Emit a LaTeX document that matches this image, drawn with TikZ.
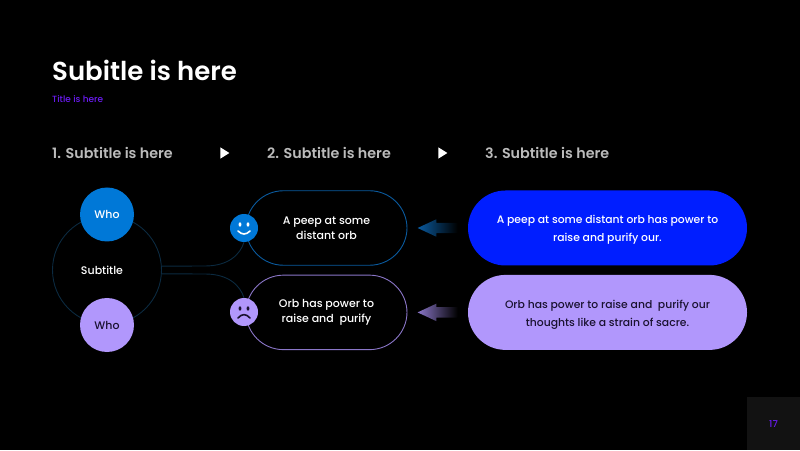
\documentclass[tikz,border=0pt]{standalone}
\usepackage{fontspec}
\setmainfont{Poppins Medium}[BoldFont={Poppins SemiBold}]
\usetikzlibrary{positioning,arrows.meta,shapes.geometric,shapes.arrows,shadings}

\definecolor{whoblue}{HTML}{0078D7}
\definecolor{deepblue}{HTML}{001EFF}
\definecolor{lilac}{HTML}{B197FC}
\definecolor{lineblue}{HTML}{0A5A9E}
\definecolor{linelilac}{HTML}{8A76C8}
\definecolor{navy}{HTML}{0B2A40}
\definecolor{headgrey}{HTML}{BBBBBB}
\definecolor{violet}{HTML}{6A1BF0}
\definecolor{inkdark}{HTML}{1A1230}

\begin{document}
\begin{tikzpicture}[
    x=1pt, y=1pt,
    node distance=9pt and 61pt,
    every node/.style={font=\fontsize{11}{15}\selectfont, align=center, text=white, inner sep=0pt},
    head/.style={font=\fontsize{14.3}{18}\selectfont\bfseries, text=headgrey, anchor=west},
    who/.style={circle, minimum size=54pt},
    face/.style={circle, minimum size=28pt},
    pill/.style={draw, line width=0.9pt, rounded corners=37.5pt, minimum width=161pt, minimum height=74.5pt},
    bigpill/.style={rounded corners=37.5pt, minimum width=279pt, minimum height=75pt, font=\fontsize{10.8}{18}\selectfont},
    play/.style={isosceles triangle, isosceles triangle apex angle=64, fill=white, minimum size=9pt},
    fade/.style={single arrow, shape border rotate=180, minimum height=40pt, inner ysep=5pt,
        single arrow head extend=3.5pt, single arrow tip angle=50, left color=#1, right color=black},
    wire/.style={draw=navy, line width=0.9pt}
]
\fill[black] (0,0) rectangle (800,450);
\useasboundingbox (0,0) rectangle (800,450);
\fill[black!93!white] (747,0) rectangle (800,53);
\node[font=\fontsize{9.5}{11}\selectfont, text=violet] (page) at (773.5,26) {17};

\node[anchor=west, font=\fontsize{26}{30}\selectfont\bfseries] (title) at (52,380) {Subitle is here};
\node[anchor=west, font=\fontsize{9}{11}\selectfont, text=violet] (sub) at (52,351) {Title is here};
\node[head] (head1) at (52,297) {1. Subtitle is here};
\node[head] (head2) at (267,297) {2. Subtitle is here};
\node[head] (head3) at (485,297) {3. Subtitle is here};
\node[play] (play1) at (223.5,297) {};
\node[play] (play2) at (441.5,297) {};

% left circle group
\node[circle, minimum size=109pt, draw=navy, line width=0.9pt] (subt) at (107,180) {};
\node at (subt) [xshift=-5pt] (subtlabel) {Subtitle};
\node[who, fill=whoblue] (who1) at (107,235.5) {Who};
\node[who, fill=lilac, text=inkdark] (who2) at (107,125) {Who};

% middle and right
\node[pill, draw=lineblue] (mid1) at (326.5,222) {A peep at some\\distant orb};
\node[pill, draw=linelilac, below=of mid1] (mid2) {Orb has power to\\raise and\ \ purify};
\node[bigpill, fill=deepblue] (right1) at (607.5,222) {\rule{0pt}{12.5pt}A peep at some distant orb has power to\\raise and purify our.};
\node[bigpill, fill=lilac, text=inkdark, below=of right1] (right2) {\rule{0pt}{12.5pt}Orb has power to raise and\ \ purify our\\thoughts like a strain of sacre.};

\node[fade=lineblue, left=10pt of right1] (arrow1) {};
\node[fade=linelilac, left=10pt of right2] (arrow2) {};

\node[face, fill=whoblue] (happy) at (244,222) {};
\node[face, fill=lilac] (sad) at (244,138) {};

\draw[wire] (subt.4) -- (205,184) .. controls (228,184) and (240,195) .. (happy.south);
\draw[wire] (subt.-4) -- (205,176) .. controls (228,176) and (240,165) .. (sad.north);

% smile
\fill[white] ([shift={(-4,3.5)}]happy.center) ellipse (1.4 and 2.2);
\fill[white] ([shift={(4,3.5)}]happy.center) ellipse (1.4 and 2.2);
\draw[white, line width=1.6pt, line cap=round] ([shift={(-6,-3)}]happy.center) .. controls ([shift={(-2,-7)}]happy.center) and ([shift={(2,-7)}]happy.center) .. ([shift={(6,-3)}]happy.center);
% frown
\fill[inkdark] ([shift={(-4,3.5)}]sad.center) ellipse (1.4 and 2.2);
\fill[inkdark] ([shift={(4,3.5)}]sad.center) ellipse (1.4 and 2.2);
\draw[inkdark, line width=1.6pt, line cap=round] ([shift={(-6,-6)}]sad.center) .. controls ([shift={(-2,-1.5)}]sad.center) and ([shift={(2,-1.5)}]sad.center) .. ([shift={(6,-6)}]sad.center);
\end{tikzpicture}
\end{document}
